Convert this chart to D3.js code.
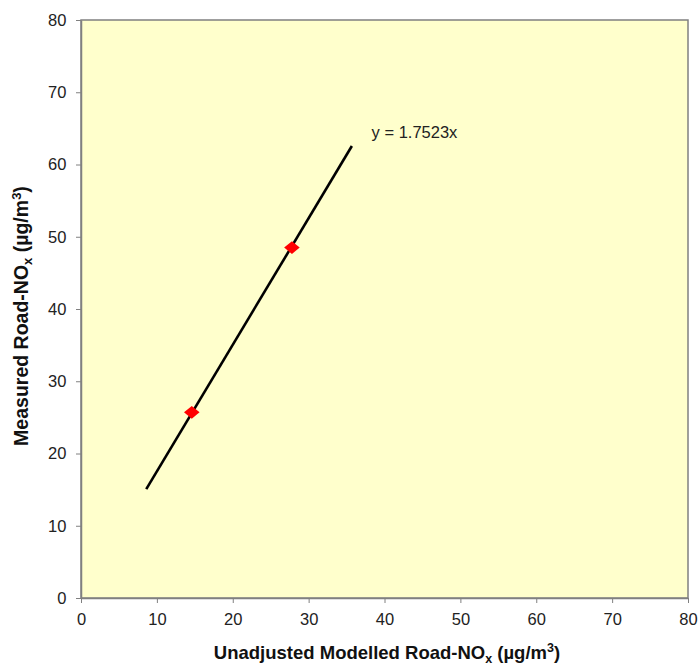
<!DOCTYPE html>
<html lang="en">
<head>
  <meta charset="UTF-8">
  <title>Road-NOx adjustment</title>
  <script src="https://d3js.org/d3.v7.min.js"></script>
  <style>
    body { margin: 0; background: #fff; }
    text { font-family: "Liberation Sans", Arial, sans-serif; }
  </style>
</head>
<body>
<script>
  // valeurs
  var modelled = [14.6, 27.8];
  var measured = [25.7, 48.5];
  var slope = 1.7523;
  var fitRange = [8.6, 35.7];
  var ticks = [0, 10, 20, 30, 40, 50, 60, 70, 80];

  var width = 698, height = 668;
  var margin = {top: 20, right: 10, bottom: 70, left: 81};

  var svg = d3.select("body").append("svg")
    .attr("width", width)
    .attr("height", height);

  var x = d3.scaleLinear().domain([0, 80]).range([margin.left, width - margin.right]);
  var y = d3.scaleLinear().domain([0, 80]).range([height - margin.bottom, margin.top]);

  // fond de la zone de tracé
  svg.append("rect")
    .attr("x", x(0)).attr("y", y(80))
    .attr("width", x(80) - x(0)).attr("height", y(0) - y(80))
    .attr("fill", "#ffffcc")
    .attr("stroke", "#808080")
    .attr("stroke-width", 1.5);

  var xAxis = svg.append("g")
    .attr("transform", "translate(0," + y(0) + ")")
    .call(d3.axisBottom(x).tickValues(ticks).tickSize(5).tickSizeOuter(0));
  var yAxis = svg.append("g")
    .attr("transform", "translate(" + x(0) + ",0)")
    .call(d3.axisLeft(y).tickValues(ticks).tickSize(5).tickSizeOuter(0));

  [xAxis, yAxis].forEach(function(g) {
    g.select(".domain").attr("stroke", "#808080").attr("stroke-width", 1.5);
    g.selectAll(".tick line").attr("stroke", "#808080");
    g.selectAll(".tick text")
      .attr("font-size", 16.5)
      .attr("font-family", "Liberation Sans, Arial, sans-serif")
      .attr("fill", "#222");
  });
  xAxis.selectAll(".tick text").attr("dy", "1.15em");
  yAxis.selectAll(".tick text").attr("dx", "-0.4em");

  // droite de régression
  svg.append("line")
    .attr("x1", x(fitRange[0])).attr("y1", y(slope * fitRange[0]))
    .attr("x2", x(fitRange[1])).attr("y2", y(slope * fitRange[1]))
    .attr("stroke", "#000")
    .attr("stroke-width", 2.6);

  svg.selectAll("path.pt")
    .data(modelled)
    .enter().append("path")
    .attr("class", "pt")
    .attr("d", d3.symbol().type(d3.symbolSquare).size(100))
    .attr("transform", function(d, i) {
      return "translate(" + x(d) + "," + y(measured[i]) + ") scale(1.1,0.9) rotate(45)";
    })
    .attr("fill", "#ff0000");

  svg.append("text")
    .attr("x", x(38.3)).attr("y", y(63.7))
    .attr("font-size", 16.5)
    .attr("fill", "#222")
    .text("y = 1.7523x");

  // titres des axes
  var xt = svg.append("text")
    .attr("x", 387)
    .attr("y", 659)
    .attr("text-anchor", "middle")
    .attr("font-size", 18.5)
    .attr("font-weight", "bold")
    .attr("fill", "#111");
  xt.append("tspan").text("Unadjusted Modelled Road-NO");
  xt.append("tspan").attr("font-size", 12.5).attr("dy", 4).text("x");
  xt.append("tspan").attr("dy", -4).text(" (\u00b5g/m");
  xt.append("tspan").attr("font-size", 12.5).attr("dy", -7).text("3");
  xt.append("tspan").attr("dy", 7).text(")");

  var yt = svg.append("text")
    .attr("transform", "translate(28,316) rotate(-90)")
    .attr("text-anchor", "middle")
    .attr("font-size", 19.5)
    .attr("font-weight", "bold")
    .attr("fill", "#111");
  yt.append("tspan").text("Measured Road-NO");
  yt.append("tspan").attr("font-size", 13).attr("dy", 4).text("x");
  yt.append("tspan").attr("dy", -4).text(" (\u00b5g/m");
  yt.append("tspan").attr("font-size", 13).attr("dy", -7).text("3");
  yt.append("tspan").attr("dy", 7).text(")");
</script>
</body>
</html>
